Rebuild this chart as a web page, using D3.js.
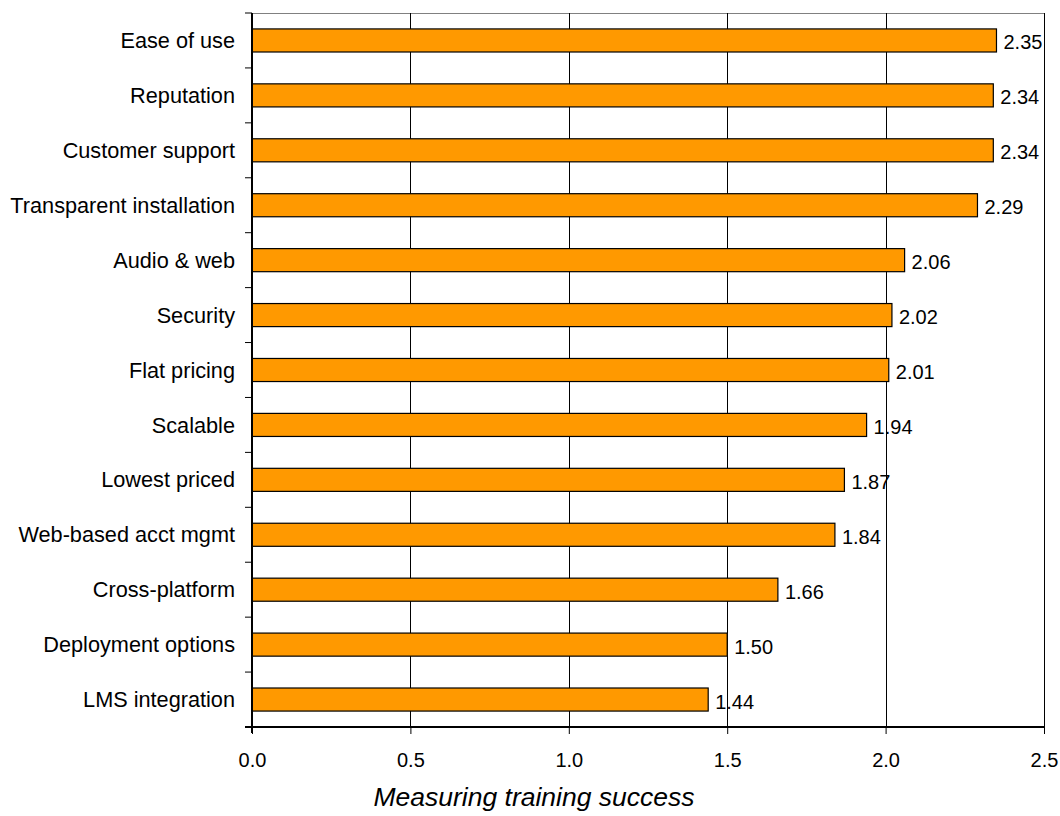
<!DOCTYPE html>
<html>
<head>
<meta charset="utf-8">
<script src="https://cdn.jsdelivr.net/npm/d3@7"></script>
<style>
  body { margin: 0; background: #fff; }
  text { font-family: Arial, "Liberation Sans", sans-serif; fill: #000; }
</style>
</head>
<body>
<script>
// chart data
var categories = ["Ease of use", "Reputation", "Customer support", "Transparent installation",
                  "Audio & web", "Security", "Flat pricing", "Scalable", "Lowest priced",
                  "Web-based acct mgmt", "Cross-platform", "Deployment options", "LMS integration"];
var scores = [2.35, 2.34, 2.34, 2.29, 2.06, 2.02, 2.01, 1.94, 1.87, 1.84, 1.66, 1.50, 1.44];
var xTicks = [0, 0.5, 1.0, 1.5, 2.0, 2.5];
var axisTitle = "Measuring training success";

var chartW = 1060, chartH = 816;
var plotL = 252, plotR = 1044, plotT = 13, plotB = 727;

var svg = d3.select("body").append("svg")
            .attr("width", chartW)
            .attr("height", chartH);

var x = d3.scaleLinear().domain([0, 2.5]).range([plotL, plotR]);
var y = d3.scaleBand().domain(categories).range([plotT, plotB]).paddingInner(0.58).paddingOuter(0.29);
var step = y.step();

// top frame line
svg.append("line")
   .attr("x1", plotL).attr("x2", plotR)
   .attr("y1", plotT + 0.5).attr("y2", plotT + 0.5)
   .style("stroke", "#808080").style("stroke-width", 1);

// vertical gridlines (and right frame)
svg.selectAll(".grid").data(xTicks.slice(1)).enter().append("line")
   .attr("class", "grid")
   .attr("x1", function(d){ return Math.round(x(d)) + 0.5; })
   .attr("x2", function(d){ return Math.round(x(d)) + 0.5; })
   .attr("y1", plotT).attr("y2", plotB)
   .style("stroke", "#000").style("stroke-width", 1);

// bars
svg.selectAll(".bar").data(scores).enter().append("rect")
   .attr("class", "bar")
   .attr("x", x(0))
   .attr("y", function(d, i){ return y(categories[i]); })
   .attr("width", function(d){ return x(d) - x(0); })
   .attr("height", y.bandwidth())
   .style("fill", "#FF9900")
   .style("stroke", "#000")
   .style("stroke-width", 1.2);

// value labels
svg.selectAll(".val").data(scores).enter().append("text")
   .attr("class", "val")
   .attr("x", function(d){ return x(d) + 7; })
   .attr("y", function(d, i){ return y(categories[i]) + y.bandwidth() / 2 + 2; })
   .attr("dy", "0.35em")
   .style("font-size", "20px")
   .text(function(d){ return d3.format(".2f")(d); });

// left axis: category labels, tick marks between categories
var yAxis = svg.append("g");
yAxis.append("line")
     .attr("x1", plotL).attr("x2", plotL)
     .attr("y1", plotT).attr("y2", plotB + 6)
     .style("stroke", "#000").style("stroke-width", 2);
yAxis.selectAll(".ytick").data(d3.range(categories.length + 1)).enter().append("line")
     .attr("class", "ytick")
     .attr("x1", plotL - 7).attr("x2", plotL)
     .attr("y1", function(i){ return plotT + i * step; })
     .attr("y2", function(i){ return plotT + i * step; })
     .style("stroke", "#000").style("stroke-width", 1);
yAxis.selectAll(".cat").data(categories).enter().append("text")
     .attr("class", "cat")
     .attr("x", 235)
     .attr("y", function(d){ return y(d) + y.bandwidth() / 2; })
     .attr("dy", "0.35em")
     .attr("text-anchor", "end")
     .style("font-size", "21.7px")
     .text(function(d){ return d; });

// bottom axis
var xAxis = svg.append("g").attr("transform", "translate(0," + plotB + ")")
               .call(d3.axisBottom(x).tickValues(xTicks).tickFormat(d3.format(".1f"))
                       .tickSize(7).tickPadding(19));
xAxis.select(".domain").remove();
xAxis.attr("font-size", null).attr("font-family", null);
xAxis.selectAll(".tick line").style("stroke", "#000");
xAxis.selectAll(".tick text").style("font-size", "20px");
svg.append("line")
   .attr("x1", plotL - 7).attr("x2", plotR)
   .attr("y1", plotB).attr("y2", plotB)
   .style("stroke", "#000").style("stroke-width", 2);

// axis title
svg.append("text")
   .attr("x", 534)
   .attr("y", 806)
   .attr("text-anchor", "middle")
   .style("font-size", "26.5px")
   .style("font-style", "italic")
   .text(axisTitle);
</script>
</body>
</html>
